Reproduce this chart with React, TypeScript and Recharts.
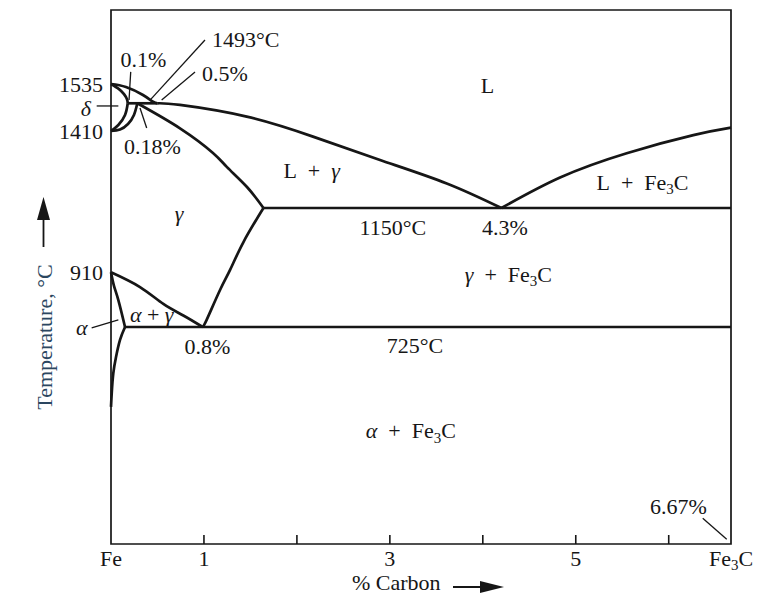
import React from 'react';
import {
  ComposedChart,
  Line,
  XAxis,
  YAxis,
  ReferenceLine,
  ReferenceDot,
  ReferenceArea,
} from 'recharts';

const CHART_W = 782;
const CHART_H = 608;
const FONT = '"Liberation Serif", "Times New Roman", serif';
const INK = '#161616';
const TITLE_INK = '#2b4660';
const FS = 22;

// Schematic (non-linear) temperature axis: break temperatures and their relative heights
const TEMP_BREAKS = [0, 725, 910, 1150, 1410, 1493, 1535, 1700];
const TEMP_HEIGHTS = [0, 0.4064, 0.5088, 0.6292, 0.7734, 0.8253, 0.8614, 1];

const warp = (t: number) => {
  let i = 0;
  while (i < TEMP_BREAKS.length - 2 && t > TEMP_BREAKS[i + 1]) i++;
  const t0 = TEMP_BREAKS[i];
  const t1 = TEMP_BREAKS[i + 1];
  const h0 = TEMP_HEIGHTS[i];
  const h1 = TEMP_HEIGHTS[i + 1];
  return h0 + ((t - t0) / (t1 - t0)) * (h1 - h0);
};

// ---- axis ticks ----
const X_TICKS = [0, 1, 2, 3, 4, 5, 6, 6.67];
const X_TICK_LABELS = ['Fe', '1', '', '3', '', '5', '', 'Fe3C'];
const Y_TICK_TEMPS = [1535, 1410, 910];

// ---- phase boundaries (% carbon, °C) ----
const DELTA_LIQ_C = [0, 0.161, 0.344, 0.452, 0.5];
const DELTA_LIQ_T = [1535, 1528.5, 1511, 1496.5, 1493];

const DELTA_SOL_C = [0, 0.086, 0.14, 0.172, 0.18];
const DELTA_SOL_T = [1535, 1524, 1513, 1502, 1493];

const DELTA_SOLVUS_C = [0.18, 0.151, 0.079, 0];
const DELTA_SOLVUS_T = [1493, 1458, 1428, 1410];

const GAMMA_DELTA_C = [0.283, 0.247, 0.183, 0.097, 0];
const GAMMA_DELTA_T = [1493, 1458, 1431, 1414.5, 1410];

const PERITECTIC_C = [0.18, 0.5];
const PERITECTIC_T = [1493, 1493];

const GAMMA_SOL_C = [0.283, 0.742, 1.097, 1.248, 1.463, 1.64];
const GAMMA_SOL_T = [1493, 1418, 1336, 1288, 1221, 1150];

const GAMMA_LIQ_C = [0.5, 0.742, 1.46, 2.173, 2.894, 3.612, 4.2];
const GAMMA_LIQ_T = [1493, 1488, 1453, 1391, 1312, 1233, 1150];

const CEM_LIQ_C = [4.2, 4.831, 5.548, 6.265, 6.67];
const CEM_LIQ_T = [1150, 1253, 1335, 1396, 1420];

const EUTECTIC_C = [1.64, 6.67];
const EUTECTIC_T = [1150, 1150];

const EUTECTOID_C = [0.151, 6.67];
const EUTECTOID_T = [725, 725];

const A3_C = [0, 0.312, 0.563, 0.778, 0.986];
const A3_T = [910, 860, 803, 764, 725];

const ACM_C = [0.986, 1.029, 1.173, 1.281, 1.425, 1.64];
const ACM_T = [725, 749, 850, 919, 1023, 1150];

const ALPHA_GAMMA_C = [0, 0.032, 0.079, 0.151];
const ALPHA_GAMMA_T = [910, 864, 816, 725];

const ALPHA_SOLVUS_C = [0.151, 0.097, 0.054, 0.025, 0.008, 0];
const ALPHA_SOLVUS_T = [725, 682, 625, 571, 505, 458];

// ---- text labels ----
const LABEL_TEXT = [
  '1493°C', '0.1%', '0.5%', '0.18%', 'L', 'L\u2002+\u2002γ', 'γ', '1150°C', '4.3%',
  'L\u2002+\u2002Fe3C', 'γ\u2002+\u2002Fe3C', '725°C', 'α\u2002+\u2002Fe3C', 'α + γ',
  '0.8%', '6.67%', 'δ', 'α',
];
const LABEL_C = [
  1.087, 0.35, 1.226, 0.446, 4.049, 2.159, 0.732, 3.032, 4.239,
  5.718, 4.275, 3.271, 3.226, 0.438, 1.038, 6.104, -0.271, -0.315,
];
const LABEL_T = [
  1635, 1590, 1559, 1357, 1532, 1277, 1130, 1078, 1078,
  1238, 904, 665, 379, 769, 662, 125, 1479, 723,
];
const LABEL_ANCHOR = [
  'start', 'middle', 'middle', 'middle', 'middle', 'middle', 'middle', 'middle', 'middle',
  'middle', 'middle', 'middle', 'middle', 'middle', 'middle', 'middle', 'middle', 'middle',
];

// ---- leader lines: [c1, t1, c2, t2] ----
const LEADER_C1 = [0.42, 0.545, 0.194, 0.312, -0.154, -0.208, 6.366];
const LEADER_T1 = [1500, 1500, 1500, 1479, 1485, 722, 86];
const LEADER_C2 = [1.011, 0.904, 0.212, 0.384, 0.079, 0.079, 6.624];
const LEADER_T2 = [1633, 1562, 1562, 1419, 1485, 749, 16];

const pts = (cs: number[], ts: number[]) => cs.map((c, i) => ({ c, y: warp(ts[i]) }));

const CURVES: { c: number[]; t: number[]; type: any }[] = [
  { c: DELTA_LIQ_C, t: DELTA_LIQ_T, type: 'natural' },
  { c: DELTA_SOL_C, t: DELTA_SOL_T, type: 'natural' },
  { c: DELTA_SOLVUS_C, t: DELTA_SOLVUS_T, type: 'natural' },
  { c: GAMMA_DELTA_C, t: GAMMA_DELTA_T, type: 'natural' },
  { c: PERITECTIC_C, t: PERITECTIC_T, type: 'linear' },
  { c: GAMMA_SOL_C, t: GAMMA_SOL_T, type: 'natural' },
  { c: GAMMA_LIQ_C, t: GAMMA_LIQ_T, type: 'natural' },
  { c: CEM_LIQ_C, t: CEM_LIQ_T, type: 'natural' },
  { c: EUTECTIC_C, t: EUTECTIC_T, type: 'linear' },
  { c: EUTECTOID_C, t: EUTECTOID_T, type: 'linear' },
  { c: A3_C, t: A3_T, type: 'natural' },
  { c: ACM_C, t: ACM_T, type: 'natural' },
  { c: ALPHA_GAMMA_C, t: ALPHA_GAMMA_T, type: 'natural' },
  { c: ALPHA_SOLVUS_C, t: ALPHA_SOLVUS_T, type: 'natural' },
];

const rich = (s: string, size: number) => {
  const parts = s.split(/(Fe3C|[αγδ])/).filter((p) => p.length > 0);
  return parts.map((p, i) => {
    if (p === 'Fe3C') {
      return (
        <React.Fragment key={i}>
          <tspan>Fe</tspan>
          <tspan fontSize={size * 0.68} dy={size * 0.2}>3</tspan>
          <tspan dy={-size * 0.2}>C</tspan>
        </React.Fragment>
      );
    }
    if (p === 'α' || p === 'γ' || p === 'δ') {
      return (
        <tspan key={i} fontStyle="italic">
          {p}
        </tspan>
      );
    }
    return <tspan key={i}>{p}</tspan>;
  });
};

const XTick = (props: any) => {
  const { x, y, payload, index } = props;
  const v = payload.value;
  const label = X_TICK_LABELS[index] ?? '';
  const inner = v > 0.5 && v < 6.5;
  return (
    <g>
      {inner && <line x1={x} x2={x} y1={y} y2={y - 9} stroke={INK} strokeWidth={1.6} />}
      {label && (
        <text x={x} y={y + 22} textAnchor="middle" fontFamily={FONT} fontSize={FS} fill={INK}>
          {rich(label, FS)}
        </text>
      )}
    </g>
  );
};

const YTick = (props: any) => {
  const { x, y, index } = props;
  return (
    <text x={x - 8} y={y + 7.5} textAnchor="end" fontFamily={FONT} fontSize={FS} fill={INK}>
      {String(Y_TICK_TEMPS[index])}
    </text>
  );
};

const XTitle = (props: any) => {
  const vb = props.viewBox || { x: 111, y: 544 };
  const x0 = vb.x + 241;
  const yb = vb.y + 46;
  return (
    <g>
      <text x={x0} y={yb} fontFamily={FONT} fontSize={FS} fill={INK}>
        % Carbon
      </text>
      <line x1={x0 + 101} x2={x0 + 130} y1={yb - 3} y2={yb - 3} stroke={INK} strokeWidth={2} />
      <path d={`M ${x0 + 128} ${yb - 9} L ${x0 + 152} ${yb - 3} L ${x0 + 128} ${yb + 3} Z`} fill={INK} />
    </g>
  );
};

const YTitle = (props: any) => {
  const vb = props.viewBox || { x: 0, y: 10 };
  const cx = vb.x + 44;
  const cy = vb.y + 327;
  const ax = vb.x + 43.5;
  return (
    <g>
      <text
        x={cx}
        y={cy}
        transform={`rotate(-90 ${cx} ${cy})`}
        textAnchor="middle"
        dy="0.35em"
        fontFamily={FONT}
        fontSize={FS}
        fill={TITLE_INK}
      >
        Temperature, °C
      </text>
      <line x1={ax} x2={ax} y1={vb.y + 237} y2={vb.y + 208} stroke={INK} strokeWidth={1.8} />
      <path
        d={`M ${ax - 6.5} ${vb.y + 210} L ${ax} ${vb.y + 187} L ${ax + 6.5} ${vb.y + 210} Z`}
        fill={INK}
      />
    </g>
  );
};

export default function App() {
  return (
    <div style={{ position: 'absolute', left: 0, top: 0, background: '#fff' }}>
      <ComposedChart
        width={CHART_W}
        height={CHART_H}
        margin={{ top: 10, right: 51, bottom: 0, left: 0 }}
      >
        <XAxis
          dataKey="c"
          type="number"
          domain={[0, 6.67]}
          ticks={X_TICKS}
          interval={0}
          height={64}
          axisLine={false}
          tickLine={false}
          tickSize={0}
          tickMargin={0}
          tick={<XTick />}
          label={<XTitle />}
        />
        <YAxis
          type="number"
          domain={[0, 1]}
          ticks={Y_TICK_TEMPS.map(warp)}
          interval={0}
          width={111}
          axisLine={false}
          tickLine={false}
          tickSize={0}
          tickMargin={0}
          tick={<YTick />}
          label={<YTitle />}
        />
        <ReferenceArea
          x1={0}
          x2={6.67}
          y1={0}
          y2={1}
          fill="none"
          fillOpacity={0}
          stroke={INK}
          strokeWidth={1.7}
          ifOverflow="visible"
        />
        {CURVES.map((cv, i) => (
          <Line
            key={`curve-${i}`}
            data={pts(cv.c, cv.t)}
            dataKey="y"
            type={cv.type}
            stroke={INK}
            strokeWidth={2.7}
            dot={false}
            activeDot={false}
            isAnimationActive={false}
            strokeLinejoin="round"
          />
        ))}
        {LEADER_C1.map((c1, i) => (
          <ReferenceLine
            key={`leader-${i}`}
            segment={[
              { x: c1, y: warp(LEADER_T1[i]) },
              { x: LEADER_C2[i], y: warp(LEADER_T2[i]) },
            ]}
            stroke={INK}
            strokeWidth={1.3}
            ifOverflow="visible"
          />
        ))}
        {LABEL_TEXT.map((txt, i) => (
          <ReferenceDot
            key={`label-${i}`}
            x={LABEL_C[i]}
            y={warp(LABEL_T[i])}
            r={0}
            ifOverflow="visible"
            shape={(p: any) => (
              <text
                x={p.cx}
                y={p.cy}
                dy="0.35em"
                textAnchor={LABEL_ANCHOR[i] as any}
                fontFamily={FONT}
                fontSize={FS}
                fill={INK}
              >
                {rich(txt, FS)}
              </text>
            )}
          />
        ))}
      </ComposedChart>
    </div>
  );
}
